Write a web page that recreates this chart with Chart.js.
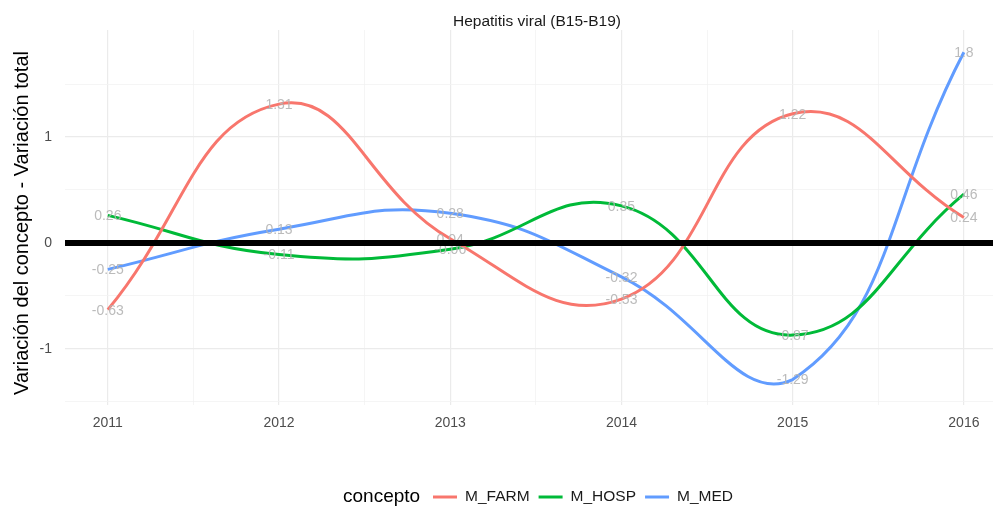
<!DOCTYPE html>
<html>
<head>
<meta charset="utf-8">
<script src="https://cdn.jsdelivr.net/npm/chart.js@4/dist/chart.umd.min.js"></script>
<style>
  html, body { margin: 0; padding: 0; background: #fff; }
  #wrap { width: 995px; height: 506px; position: relative; }
</style>
</head>
<body>
<div id="wrap"><canvas id="chart"></canvas></div>
<script>
var years = [2011, 2012, 2013, 2014, 2015, 2016];
var farm = [-0.63, 1.31, 0.04, -0.53, 1.22, 0.24];
var hosp = [0.26, -0.11, -0.06, 0.35, -0.87, 0.46];
var med = [-0.25, 0.13, 0.28, -0.32, -1.29, 1.8];
var seriesNames = ['M_FARM', 'M_HOSP', 'M_MED'];
var seriesColors = ['#F8766D', '#00BA38', '#619CFF'];
// grid positions (major at whole values, minor at halves)
var xGrid = [2011, 2011.5, 2012, 2012.5, 2013, 2013.5, 2014, 2014.5, 2015, 2015.5, 2016];
var yGrid = [-1.5, -1, -0.5, 0, 0.5, 1, 1.5];

var FONT = '"Liberation Sans", Arial, Helvetica, sans-serif';

function toPoints(vals) {
    return vals.map(function(v, i) { return { x: years[i], y: v }; });
}

// value labels, title, zero line and legend drawn on the canvas
var decorPlugin = {
    id: 'decor',
    afterDatasetsDraw: function(chart) {
        var ctx = chart.ctx;
        var area = chart.chartArea;
        var yScale = chart.scales.y;

        // point labels
        ctx.save();
        ctx.font = '14px ' + FONT;
        ctx.fillStyle = 'rgba(180,180,180,0.9)';
        ctx.textAlign = 'center';
        ctx.textBaseline = 'middle';
        chart.data.datasets.forEach(function(ds, di) {
            chart.getDatasetMeta(di).data.forEach(function(pt, i) {
                ctx.fillText(String(ds.data[i].y), pt.x, pt.y + 1);
            });
        });
        ctx.restore();

        // thick zero line
        var y0 = yScale.getPixelForValue(0);
        ctx.save();
        ctx.strokeStyle = '#000';
        ctx.lineWidth = 6;
        ctx.beginPath();
        ctx.moveTo(area.left, y0);
        ctx.lineTo(area.right, y0);
        ctx.stroke();
        ctx.restore();
    },
    afterDraw: function(chart) {
        var ctx = chart.ctx;
        ctx.save();

        // title
        ctx.font = '15.5px ' + FONT;
        ctx.fillStyle = '#1a1a1a';
        ctx.textAlign = 'center';
        ctx.textBaseline = 'middle';
        ctx.fillText('Hepatitis viral (B15-B19)', 537, 22);

        // y axis title
        ctx.save();
        ctx.translate(22, 223);
        ctx.rotate(-Math.PI / 2);
        ctx.font = '20px ' + FONT;
        ctx.fillStyle = '#000';
        ctx.fillText('Variación del concepto - Variación total', 0, 0);
        ctx.restore();

        // legend
        var ly = 497;
        ctx.textAlign = 'left';
        ctx.font = '19px ' + FONT;
        ctx.fillStyle = '#000';
        var x = 343;
        ctx.fillText('concepto', x, ly);
        x = 433;
        ctx.font = '15.5px ' + FONT;
        seriesNames.forEach(function(name, i) {
            ctx.strokeStyle = seriesColors[i];
            ctx.lineWidth = 3;
            ctx.beginPath();
            ctx.moveTo(x, ly);
            ctx.lineTo(x + 24, ly);
            ctx.stroke();
            x += 32;
            ctx.fillStyle = '#1a1a1a';
            ctx.fillText(name, x, ly);
            x += ctx.measureText(name).width + 9;
        });
        ctx.restore();
    }
};

var datasets = [farm, hosp, med].map(function(vals, i) {
    return {
        label: seriesNames[i],
        data: toPoints(vals),
        borderColor: seriesColors[i],
        backgroundColor: seriesColors[i],
        borderWidth: 3,
        pointRadius: 0,
        tension: 0.45,
        fill: false
    };
});

function gridColor(c) {
    return Number.isInteger(c.tick.value) ? '#ebebeb' : '#f3f3f3';
}
function gridWidth(c) {
    return Number.isInteger(c.tick.value) ? 1.2 : 0.8;
}

new Chart(document.getElementById('chart'), {
    type: 'line',
    data: { datasets: datasets },
    plugins: [decorPlugin],
    options: {
        responsive: true,
        maintainAspectRatio: false,
        animation: false,
        layout: { padding: { top: 30, right: 2, left: 0, bottom: 0 } },
        plugins: {
            legend: { display: false },
            title: { display: false },
            tooltip: { enabled: false }
        },
        scales: {
            x: {
                type: 'linear',
                min: 2010.75,
                max: 2016.17,
                afterBuildTicks: function(scale) {
                    scale.ticks = xGrid.map(function(v) { return { value: v }; });
                },
                afterFit: function(scale) { scale.height = 101; },
                border: { display: false },
                grid: { drawTicks: false, color: gridColor, lineWidth: gridWidth },
                ticks: {
                    padding: 10,
                    maxRotation: 0,
                    autoSkip: false,
                    color: '#4d4d4d',
                    font: { size: 14, family: FONT },
                    callback: function(v) { return Number.isInteger(v) ? String(v) : ''; }
                }
            },
            y: {
                min: -1.53,
                max: 2.01,
                afterBuildTicks: function(scale) {
                    scale.ticks = yGrid.map(function(v) { return { value: v }; });
                },
                afterFit: function(scale) { scale.width = 65; },
                border: { display: false },
                grid: { drawTicks: false, color: gridColor, lineWidth: gridWidth },
                ticks: {
                    padding: 13,
                    autoSkip: false,
                    color: '#4d4d4d',
                    font: { size: 14, family: FONT },
                    callback: function(v) { return Number.isInteger(v) ? String(v) : ''; }
                }
            }
        }
    }
});
</script>
</body>
</html>
